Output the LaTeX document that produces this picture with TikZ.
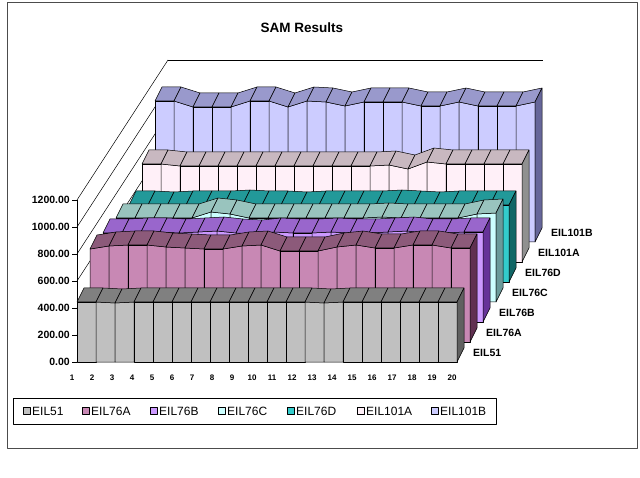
\documentclass[tikz,border=0pt]{standalone}
\usepackage{fontspec}
\setmainfont{Liberation Sans}
\begin{document}
\begin{tikzpicture}[x=1pt,y=-1pt,line join=round,
  edge/.style={draw=black,line width=0.5pt},
  axlab/.style={font=\bfseries\fontsize{10.5}{10.5}\selectfont,anchor=east,inner sep=0pt},
  catlab/.style={font=\bfseries\fontsize{8}{8}\selectfont,inner sep=0pt},
  serlab/.style={font=\bfseries\fontsize{10.5}{10.5}\selectfont,anchor=west,inner sep=0pt},
  leglab/.style={font=\fontsize{12}{12}\selectfont,anchor=west,inner sep=0pt},
  legsq/.style={draw=black,line width=0.4pt,minimum size=7pt,inner sep=0pt}]
\useasboundingbox (0,0) rectangle (640,478);
\fill[white] (0,0) rectangle (640,478);
\draw[line width=1pt,black!70] (7,3) rectangle (637,448);
\node[font=\bfseries\fontsize{13.5}{13.5}\selectfont] (title) at (302,28) {SAM Results};
% walls
\foreach \v in {0,...,6}{
  \draw[black,line width=0.5pt] (77,362-27*\v) -- (168,222-27*\v);
  \draw[black,line width=0.5pt] (72,362-27*\v) -- (77,362-27*\v);
}
\draw[black,line width=0.5pt] (168,60) -- (543,60);
\draw[black,line width=0.5pt] (77,362) -- (77,200);
\foreach \v/\t in {0/0.00,1/200.00,2/400.00,3/600.00,4/800.00,5/1000.00,6/1200.00}
  \node[axlab] (ax\v) at (70,362-27*\v) {\t};
\newcommand\ribbon[5]{%
  \pgfmathsetmacro\bx{77+13*#1}\pgfmathsetmacro\by{362-20*#1}%
  \foreach \k in {0,...,19}{
    \pgfmathsetmacro\xa{\bx+19*\k}\pgfmathsetmacro\xb{\xa+19}
    \pgfmathsetmacro\ya{{#5}[\k]}\pgfmathsetmacro\yb{{#5}[\k+1]}
    \filldraw[edge,fill=#2] (\xa,\by)--(\xa,\ya)--(\xb,\yb)--(\xb,\by)--cycle;
    \filldraw[edge,fill=#3] (\xa,\ya)--(\xb,\yb)--(\xb+7,\yb-14)--(\xa+7,\ya-14)--cycle;
  }
  \pgfmathsetmacro\xe{\bx+380}\pgfmathsetmacro\ye{{#5}[20]}
  \filldraw[edge,fill=#4] (\xe,\ye)--(\xe+7,\ye-14)--(\xe+7,\by-14)--(\xe,\by)--cycle;
}
\definecolor{f51}{HTML}{C0C0C0}\definecolor{b51}{HTML}{808080}\definecolor{s51}{HTML}{606060}
\definecolor{fA}{HTML}{C888B4}\definecolor{bA}{HTML}{8C5A7A}\definecolor{sA}{HTML}{603050}
\definecolor{fB}{HTML}{CC99FF}\definecolor{bB}{HTML}{9966CC}\definecolor{sB}{HTML}{663399}
\definecolor{fC}{HTML}{CCFFFF}\definecolor{bC}{HTML}{99C4BE}\definecolor{sC}{HTML}{6A9A9A}
\definecolor{fD}{HTML}{33CCCC}\definecolor{bD}{HTML}{229999}\definecolor{sD}{HTML}{116666}
\definecolor{fE}{HTML}{FFF0F8}\definecolor{bE}{HTML}{C8B8C0}\definecolor{sE}{HTML}{909090}
\definecolor{fF}{HTML}{CCCCFF}\definecolor{bF}{HTML}{9999CC}\definecolor{sF}{HTML}{666699}
\ribbon{6}{fF}{bF}{sF}{101,101,107,107,107,101,101,107,101,102,106,102,102,102,106,106,102,106,106,106,102}
\ribbon{5}{fE}{bE}{sE}{164,164,166,166,166,166,166,166,166,166,166,166,166,165,169,162,164,164,164,164,164}
\ribbon{4}{fD}{bD}{sD}{205,205,206,205,205,205,204,205,205,206,205,205,205,205,204,205,206,205,205,205,205}
\ribbon{3}{fC}{bC}{sC}{218,218,218,218,218,212,214,218,218,218,218,218,218,218,217,218,218,218,218,214,213}
\ribbon{2}{fB}{bB}{sB}{233,233,232,232,233,232,231,233,234,232,233,233,232,233,233,232,231,233,233,232,232}
\ribbon{1}{fA}{bA}{sA}{249,246,245,245,247,248,249,249,246,245,251,251,251,247,245,248,248,245,245,248,248}
\ribbon{0}{f51}{b51}{s51}{302,302,303,302,302,302,302,302,302,302,302,302,302,303,302,302,302,302,302,302,302}
\foreach \k in {1,...,20} \node[catlab] (c\k) at (72+20*\k-20,378) {\k};
\foreach \i/\t in {0/EIL51,1/EIL76A,2/EIL76B,3/EIL76C,4/EIL76D,5/EIL101A,6/EIL101B}
  \node[serlab] (s\i) at (473+13*\i,353-20*\i) {\t};
% legend
\draw[black,line width=0.6pt] (13,398) rectangle (496,424);
\foreach \x/\c/\t [count=\n] in {24/f51/EIL51,83/fA/EIL76A,151/fB/EIL76B,219/fC/EIL76C,288/fD/EIL76D,358/fE/EIL101A,432/fF/EIL101B}{
  \node[legsq,fill=\c] (q\n) at (\x+3,411) {};
  \node[leglab] (l\n) at (\x+8,411) {\t};
}
\end{tikzpicture}
\end{document}
